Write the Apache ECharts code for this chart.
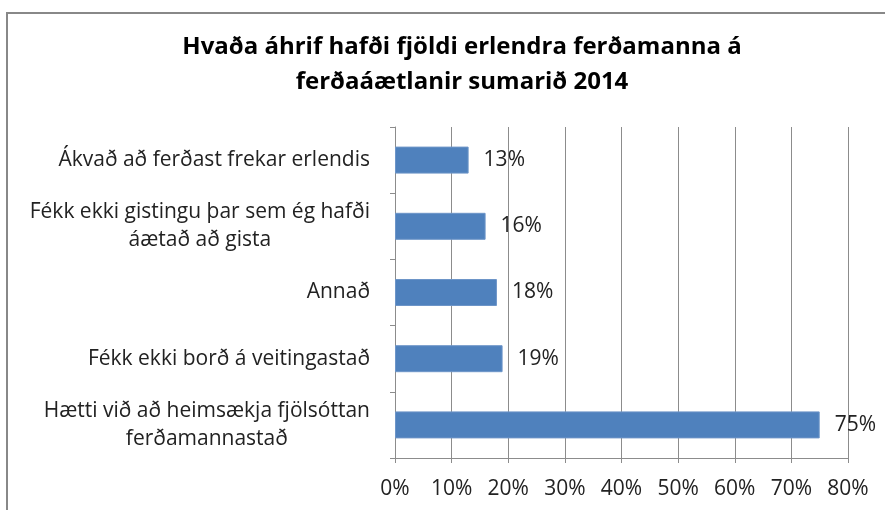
<!DOCTYPE html>
<html>
<head>
<meta charset="utf-8">
<script src="https://cdn.jsdelivr.net/npm/echarts@6/dist/echarts.min.js"></script>
<style>
  html, body { margin: 0; padding: 0; background: #fff; }
  #chart { width: 885px; height: 510px; }
</style>
</head>
<body>
<div id="chart"></div>
<script>
// flokkar frá botni og upp (category axis byrjar neðst)
var categories = [
  'Hætti við að heimsækja fjölsóttan\nferðamannastað',
  'Fékk ekki borð á veitingastað',
  'Annað',
  'Fékk ekki gistingu þar sem ég hafði\náætað að gista',
  'Ákvað að ferðast frekar erlendis'
];
var values = [75, 19, 18, 16, 13];
var xTicks = [0, 10, 20, 30, 40, 50, 60, 70, 80];

var FONT = '"Open Sans", "DejaVu Sans", sans-serif';

var myChart = echarts.init(document.getElementById('chart'));
var option = {
  animation: false,
  backgroundColor: '#fff',
  title: {
    text: 'Hvaða áhrif hafði fjöldi erlendra ferðamanna á\nferðaáætlanir sumarið 2014',
    left: 457,
    top: 25,
    textAlign: 'center',
    textStyle: {
      fontFamily: FONT,
      fontSize: 24,
      fontWeight: 'bold',
      color: '#000',
      lineHeight: 35
    }
  },
  graphic: [{
    type: 'rect',
    shape: { x: 7, y: 13, width: 900, height: 520 },
    style: { fill: 'none', stroke: '#888', lineWidth: 2 },
    silent: true
  }],
  grid: {
    left: 395,
    right: 37,
    top: 127,
    bottom: 52,
    containLabel: false
  },
  xAxis: {
    type: 'value',
    min: xTicks[0],
    max: xTicks[xTicks.length - 1],
    interval: 10,
    axisLine: { show: true, lineStyle: { color: '#8c8c8c', width: 1 } },
    axisTick: { show: true, length: 5, lineStyle: { color: '#8c8c8c' } },
    splitLine: { show: true, lineStyle: { color: '#8c8c8c', width: 1 } },
    axisLabel: {
      margin: 21,
      fontFamily: FONT,
      fontSize: 21,
      color: '#222',
      formatter: function (v) { return v + '%'; }
    }
  },
  yAxis: {
    type: 'category',
    data: categories,
    axisLine: { show: true, lineStyle: { color: '#8c8c8c', width: 1 } },
    axisTick: { show: true, length: 5, lineStyle: { color: '#8c8c8c' } },
    axisLabel: {
      margin: 25,
      formatter: function (v) {
        return v.split('\n').map(function (s) { return '{c|' + s + '}'; }).join('\n');
      },
      rich: {
        c: {
          align: 'center',
          fontFamily: FONT,
          fontSize: 21,
          color: '#222',
          lineHeight: 28
        }
      }
    }
  },
  series: [{
    type: 'bar',
    data: values,
    barWidth: 27,
    itemStyle: { color: '#4f81bd', borderColor: '#6d95c8', borderWidth: 1 },
    label: {
      show: true,
      position: 'right',
      distance: 15,
      fontFamily: FONT,
      fontSize: 21,
      color: '#222',
      formatter: function (p) { return p.value + '%'; }
    }
  }]
};
myChart.setOption(option);
</script>
</body>
</html>
